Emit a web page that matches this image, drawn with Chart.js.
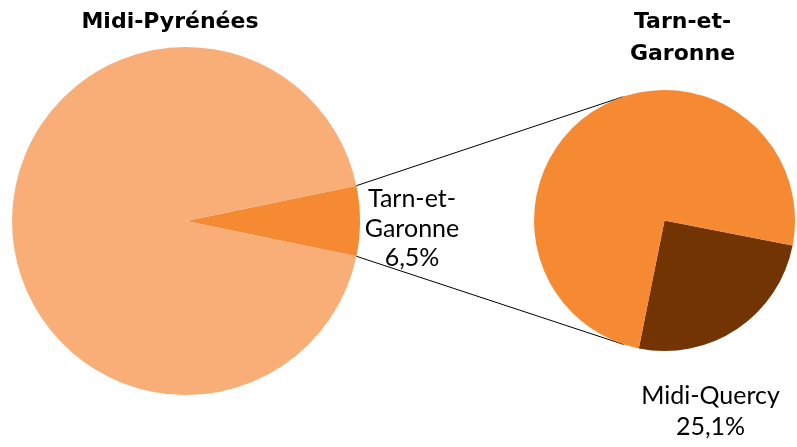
<!DOCTYPE html>
<html>
<head>
<meta charset="utf-8">
<script src="https://cdn.jsdelivr.net/npm/chart.js@4/dist/chart.umd.min.js"></script>
<style>
  html, body { margin: 0; padding: 0; background: #fff; }
  #wrap { position: relative; width: 797px; height: 447px; }
  #wrap canvas { position: absolute; left: 0; top: 0; }
</style>
</head>
<body>
<div id="wrap">
  <canvas id="left" width="797" height="447"></canvas>
  <canvas id="right" width="797" height="447"></canvas>
</div>
<script>
// Midi-Pyrénées : part du Tarn-et-Garonne
const regionLabels = ['Tarn-et-Garonne', 'Reste de Midi-Pyrénées'];
const regionValues = [6.5, 93.5];
const regionColors = ['#F68A33', '#F9AE78'];

// Tarn-et-Garonne : part de Midi-Quercy
const deptLabels = ['Midi-Quercy', 'Reste du Tarn-et-Garonne'];
const deptValues = [25.1, 74.9];
const deptColors = ['#733404', '#F68A33'];

const FONT = 'Lato, "Open Sans", sans-serif';
const TITLE_FONT = 'bold 22px "DejaVu Sans", Lato, sans-serif';
const fmt = v => v.toFixed(1).replace('.', ',') + '%';

function drawLines(ctx, lines, x, y0, lh) {
  lines.forEach((t, i) => ctx.fillText(t, x, y0 + i * lh));
}

const leftChart = new Chart(document.getElementById('left'), {
  type: 'pie',
  data: {
    labels: regionLabels,
    datasets: [{ data: regionValues, backgroundColor: regionColors, borderWidth: 0 }]
  },
  options: {
    responsive: false,
    animation: false,
    // center the small slice on the right-hand side
    rotation: 90 - regionValues[0] / regionValues.reduce((a, b) => a + b, 0) * 180,
    layout: { padding: { left: 12, right: 437, top: 47, bottom: 52 } },
    plugins: { legend: { display: false }, tooltip: { enabled: false } }
  },
  plugins: [{
    id: 'leftText',
    afterDraw(chart) {
      const ctx = chart.ctx;
      const arc = chart.getDatasetMeta(0).data[0];
      ctx.save();
      ctx.fillStyle = '#000';
      ctx.textAlign = 'center';
      ctx.font = TITLE_FONT;
      ctx.fillText('Midi-Pyrénées', arc.x - 16, 28);
      ctx.font = '25px ' + FONT;
      drawLines(ctx, ['Tarn-et-', 'Garonne', fmt(regionValues[0])],
        arc.x + arc.outerRadius + 52, arc.y - 14, 29.5);
      ctx.restore();
    }
  }]
});

const rightChart = new Chart(document.getElementById('right'), {
  type: 'pie',
  data: {
    labels: deptLabels,
    datasets: [{ data: deptValues, backgroundColor: deptColors, borderWidth: 0 }]
  },
  options: {
    responsive: false,
    animation: false,
    rotation: 101,
    layout: { padding: { left: 534, right: 2, top: 90, bottom: 96 } },
    plugins: { legend: { display: false }, tooltip: { enabled: false } }
  },
  plugins: [{
    id: 'connectors',
    beforeDatasetsDraw(chart) {
      // lines from the small slice edges, tangent to the second pie
      const src = leftChart.getDatasetMeta(0).data[0];
      const dst = chart.getDatasetMeta(0).data[0];
      const r = dst.outerRadius;
      const ends = [[src.startAngle, 1], [src.endAngle, -1]];
      const ctx = chart.ctx;
      ctx.save();
      ctx.strokeStyle = '#000';
      ctx.lineWidth = 1;
      ends.forEach(([a, sign]) => {
        const px = src.x + src.outerRadius * Math.cos(a);
        const py = src.y + src.outerRadius * Math.sin(a);
        const dx = px - dst.x, dy = py - dst.y;
        const d = Math.hypot(dx, dy);
        const t = Math.atan2(dy, dx) + sign * Math.acos(r / d);
        ctx.beginPath();
        ctx.moveTo(px, py);
        ctx.lineTo(dst.x + r * Math.cos(t), dst.y + r * Math.sin(t));
        ctx.stroke();
      });
      ctx.restore();
    },
    afterDraw(chart) {
      const ctx = chart.ctx;
      const arc = chart.getDatasetMeta(0).data[0];
      ctx.save();
      ctx.fillStyle = '#000';
      ctx.textAlign = 'center';
      ctx.font = TITLE_FONT;
      drawLines(ctx, ['Tarn-et-', 'Garonne'], arc.x + 18, 28, 32);
      ctx.font = '25px ' + FONT;
      drawLines(ctx, [deptLabels[0], fmt(deptValues[0])], arc.x + 46, arc.y + 183.5, 31);
      ctx.restore();
    }
  }]
});
</script>
</body>
</html>
